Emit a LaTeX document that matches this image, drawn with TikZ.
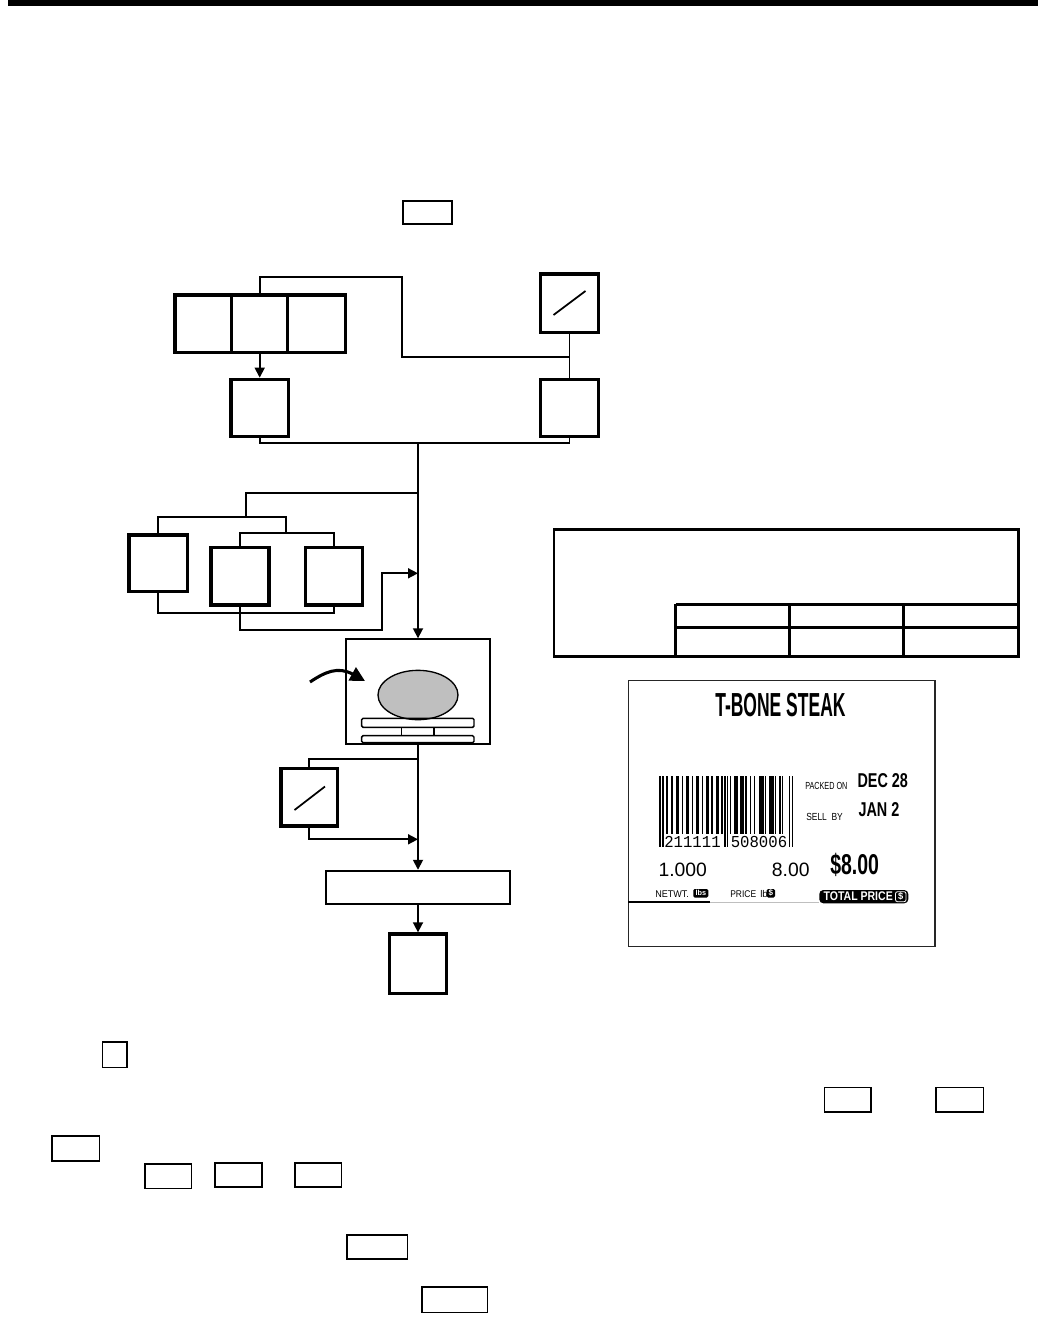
\documentclass[tikz,border=0pt]{standalone}
\usepackage{fontspec}
\setmainfont{Liberation Sans}
\newfontfamily\monof{Liberation Mono}
\usepackage{graphicx}
\usetikzlibrary{arrows.meta,fit,shapes.geometric}
\tikzset{
  thickbox/.style={draw, line width=2.5pt, inner sep=0pt},
  keybox/.style={draw, line width=1.2pt, inner sep=0pt},
  conn/.style={line width=1.3pt},
  arr/.style={conn, -{Triangle[length=7.5pt,width=7.5pt]}},
  lbl/.style={inner sep=0pt, anchor=base west},
  tbl/.style={line width=1.9pt},
  blk/.style={fill=black, inner sep=0pt},
}
\begin{document}
\begin{tikzpicture}[x=0.75pt,y=-0.75pt]
\useasboundingbox (0,0) rectangle (1062,1339);
% top rule
\fill[black] (8,0) rectangle (1038,5.5);

% key box in text line
\node (key0) [keybox, fit={(403,201) (452,224)}] {};

% three keys
\node (k1) [thickbox, fit={(175,295) (231.7,352.7)}] {};
\node (k2) [thickbox, fit={(231.7,295) (287.7,352.7)}] {};
\node (k3) [thickbox, fit={(287.7,295) (345.7,352.7)}] {};
% slash key top right
\node (s1) [thickbox, fit={(540.5,274) (598.5,332.7)}] {};
\draw[line width=1.3pt] (553.5,315) -- (585.5,291);
% second row boxes
\node (L1) [thickbox, fit={(231,379.3) (288.4,436.7)}] {};
\node (R1) [thickbox, fit={(540.5,379.3) (598.5,436.7)}] {};

\coordinate (c1) at (401.7,276.7);
\coordinate (j0) at (569.5,356.7);
\coordinate (j1) at (418,443.3);
\draw[conn] (k2.north) |- (c1) |- (j0);
\draw[conn] (s1.south) -- (R1.north);
\draw[arr] (k2.south) -- (L1.north);
\draw[conn] (L1.south) |- (j1) -| (R1.south);

% branch group
\node (A) [thickbox, fit={(129,535) (187.7,591.7)}] {};
\node (B) [thickbox, fit={(211,547.3) (269,605)}] {};
\node (C) [thickbox, fit={(305.7,547.3) (362.3,605)}] {};
\coordinate (j2) at (418,492.7);
\coordinate (t1) at (246,516.7);
\coordinate (p0) at (286,516.7);
\coordinate (p1) at (286,532.7);
\coordinate (q1) at (250,613.3);
\coordinate (q2) at (381.7,630);
\coordinate (j3) at (418,573.3);
\draw[conn] (j2) -| (t1);
\draw[conn] (A.north) |- (p0) -- (p1);
\draw[conn] (B.north) |- (p1) -| (C.north);
\draw[conn] (A.south) |- (q1) -| (C.south);
\draw[arr] (B.south) |- (q2) |- (j3);

% scale
\node (scale) [draw, line width=1.5pt, inner sep=0pt, fit={(346,639.3) (490,744)}] {};
\draw[arr] (j1) -- (scale.north);
\draw[line width=1pt, fill=gray!50] (418,695) ellipse [x radius=30pt, y radius=18.5pt];
\draw[line width=1.1pt, rounded corners=1pt] (361.7,718.3) rectangle (474,727.3);
\draw[line width=1.1pt, rounded corners=1pt] (361.7,735.7) rectangle (474,742.7);
\draw[line width=1.1pt] (401.7,727.3) -- (401.7,735.7) (434,727.3) -- (434,735.7);
\draw[line width=2.3pt, -{Triangle[length=11pt,width=11pt]}] (310,682) .. controls (325,672) and (338,666) .. (365,681);

% lower part
\node (s2) [thickbox, fit={(281,768.3) (337.7,826)}] {};
\draw[line width=1.3pt] (294.5,810) -- (325,786.5);
\node (rect) [draw, line width=1.4pt, inner sep=0pt, fit={(325.7,870.7) (510.3,904)}] {};
\node (fin) [thickbox, fit={(389.3,934) (446.7,993.3)}] {};
\coordinate (j4) at (418,759.3);
\coordinate (j5) at (418,839.3);
\draw[arr] (scale.south) -- (rect.north);
\draw[conn] (j4) -| (s2.north);
\draw[arr] (s2.south) |- (j5);
\draw[arr] (rect.south) -- (fin.north);

% table
\draw[tbl] (554,529.3) rectangle (1018.3,656.7);
\draw[tbl] (675.7,604.3) -- (1018.3,604.3) (675.7,627.7) -- (1018.3,627.7)
  (675.7,604.3) -- (675.7,656.7) (789.3,604.3) -- (789.3,656.7) (903.3,604.3) -- (903.3,656.7);

% label
\draw[line width=0.9pt, black!85] (628.3,680.7) rectangle (935,946.7);
\node[lbl] at (715,716.7) {\scalebox{0.525}[1]{\fontsize{25}{25}\selectfont\bfseries T-BONE STEAK}};
\foreach \s/\w/\b in {0/1/847,2/1/847,5/1/834,8/2/834,12/2/834,16/1/834,19/2/834,23/1/834,
  26/2/834,30/1/834,33/2/834,37/1/834,40/2/834,44/1/834,46/1/847,48/1/847,50/1/834,53/3/834,
  57/3/834,61/1/834,64/1/834,67/1/834,71/3/834,75/1/834,78/3/834,82/1/834,85/1/834,87/1/834,
  92/1/847,94/1/847}
  \fill[black] ({659.3+\s*1.41},776) rectangle ({659.3+(\s+\w)*1.41},\b);
\node[lbl] at (664,847) {\scalebox{0.94}[1]{\monof\fontsize{12.5}{12.5}\selectfont 211111}};
\node[lbl] at (730.5,847) {\scalebox{0.94}[1]{\monof\fontsize{12.5}{12.5}\selectfont 508006}};
\node[lbl] at (805,789) {\scalebox{0.705}[1]{\fontsize{7.7}{7.7}\selectfont PACKED ON}};
\node[lbl] at (806,820.7) {\scalebox{0.82}[1]{\fontsize{7.7}{7.7}\selectfont SELL\ \ BY}};
\node[lbl] at (857.3,787.3) {\scalebox{0.72}[1]{\fontsize{15}{15}\selectfont\bfseries DEC 28}};
\node[lbl] at (858.3,816.7) {\scalebox{0.72}[1]{\fontsize{15}{15}\selectfont\bfseries JAN 2}};
\node[lbl] at (658.3,876.7) {\fontsize{14.5}{14.5}\selectfont 1.000};
\node[lbl] at (771.7,876.7) {\fontsize{14.5}{14.5}\selectfont 8.00};
\node[lbl] at (830,874) {\scalebox{0.68}[1]{\fontsize{21.5}{21.5}\selectfont\bfseries \$8.00}};
\node[lbl] at (655,897) {\scalebox{0.93}[1]{\fontsize{7.3}{7.3}\selectfont NETWT.}};
\node (lbsbox) [blk, rounded corners=1pt, fit={(693.3,889) (708.3,897.5)}] {};
\node[text=white, inner sep=0pt] at (lbsbox.center) {\fontsize{5.5}{5.5}\selectfont\bfseries lbs};
\node[lbl] at (730,897) {\scalebox{0.87}[1]{\fontsize{7.3}{7.3}\selectfont PRICE}};
\node[lbl] at (760,897) {\fontsize{7.3}{7.3}\selectfont lb};
\node (dbox) [blk, rounded corners=1pt, fit={(766.7,889) (775,897.5)}] {};
\node[text=white, inner sep=0pt] at (dbox.center) {\fontsize{6}{6}\selectfont\bfseries \$};
\node (tpbox) [blk, rounded corners=3pt, fit={(819.3,890) (908.3,903.3)}] {};
\node[lbl, text=white] at (823.3,900.5) {\scalebox{0.84}[1]{\fontsize{9.4}{9.4}\selectfont\bfseries TOTAL PRICE}};
\node (tpd) [draw=white, line width=0.6pt, rounded corners=1.5pt, inner sep=0pt, fit={(895.5,891.7) (906,901.7)}] {};
\node[text=white, inner sep=0pt] at (tpd.center) {\fontsize{7}{7}\selectfont\bfseries \$};
\draw[line width=0.8pt] (628.3,902) -- (710,902);
\draw[line width=0.5pt, gray!50] (710,902) -- (819,902);

% key boxes in text below
\node (key1) [keybox, fit={(102.3,1041.7) (126.7,1067.3)}] {};
\node (key2) [keybox, fit={(824.3,1087.3) (871,1112)}] {};
\node (key3) [keybox, fit={(935.7,1087.3) (983.3,1112)}] {};
\node (key4) [keybox, fit={(51.7,1136) (99.3,1161)}] {};
\node (key5) [keybox, fit={(144.7,1163.7) (191.3,1188.3)}] {};
\node (key6) [keybox, fit={(214.7,1162.7) (261.7,1187)}] {};
\node (key7) [keybox, fit={(294.7,1162.7) (341.3,1187)}] {};
\node (key8) [keybox, fit={(346.7,1234.7) (407.3,1259)}] {};
\node (key9) [keybox, fit={(421.7,1286.7) (487.3,1312.3)}] {};
\end{tikzpicture}
\end{document}
